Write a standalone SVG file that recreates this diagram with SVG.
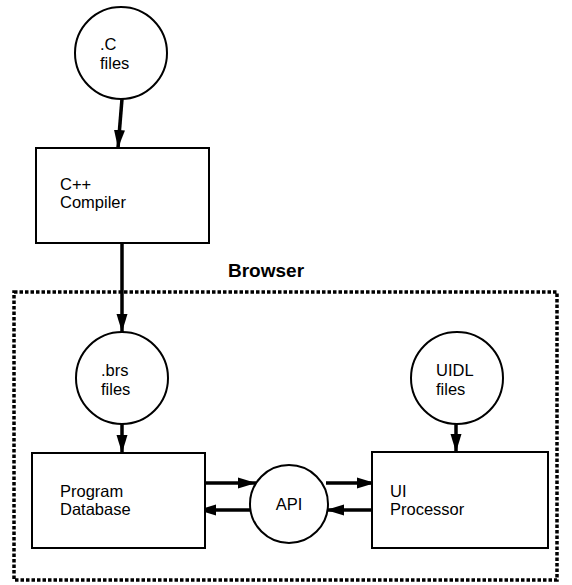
<svg xmlns="http://www.w3.org/2000/svg" width="572" height="585" viewBox="0 0 572 585">
<defs>
<marker id="ah" markerUnits="userSpaceOnUse" markerWidth="19" markerHeight="14" refX="18" refY="7" orient="auto">
<path d="M0,1.5 L18,7 L0,12.5 Z" fill="#000"/>
</marker>
<style>
.n{fill:#fff;stroke:#000;stroke-width:2}
.t{font-family:"Liberation Sans",Arial,sans-serif;font-size:16.5px;fill:#000}
.c{stroke:#000;stroke-width:3.5;fill:none;marker-end:url(#ah)}
.b{fill:none;stroke:#000;stroke-width:3.5;stroke-dasharray:3.5 2}
</style>
</defs>
<rect width="572" height="585" fill="#fff"/>
<g id="browser">
<rect class="b" x="14" y="292" width="543" height="288"/>
<text x="228" y="277" style="font-family:'Liberation Sans',Arial,sans-serif;font-size:19px;font-weight:bold">Browser</text>
</g>
<g id="connectors">
<line class="c" x1="122" y1="99" x2="118" y2="148"/>
<line class="c" x1="122" y1="243" x2="122" y2="332"/>
<line class="c" x1="122" y1="424" x2="122" y2="453"/>
<line class="c" x1="456" y1="424" x2="456" y2="452"/>
<line class="c" x1="205" y1="483" x2="256" y2="483"/>
<line class="c" x1="252" y1="510" x2="198" y2="510"/>
<line class="c" x1="326" y1="483" x2="375" y2="483"/>
<line class="c" x1="372" y1="510" x2="326" y2="510"/>
</g>
<g id="cfiles">
<circle class="n" cx="121" cy="53" r="46"/>
<text class="t" x="100" y="50">.C</text>
<text class="t" x="100" y="69">files</text>
</g>
<g id="compiler">
<rect class="n" x="36" y="148" width="173" height="95"/>
<text class="t" x="60" y="190">C++</text>
<text class="t" x="60" y="208">Compiler</text>
</g>
<g id="brsfiles">
<circle class="n" cx="122" cy="378" r="46"/>
<text class="t" x="101" y="376">.brs</text>
<text class="t" x="101" y="395">files</text>
</g>
<g id="progdb">
<rect class="n" x="32" y="453" width="173" height="95"/>
<text class="t" x="60" y="497">Program</text>
<text class="t" x="60" y="515">Database</text>
</g>
<g id="api">
<circle class="n" cx="289" cy="504" r="39"/>
<text class="t" x="289" y="510" text-anchor="middle">API</text>
</g>
<g id="uidl">
<circle class="n" cx="457" cy="378" r="46"/>
<text class="t" x="436" y="376">UIDL</text>
<text class="t" x="436" y="395">files</text>
</g>
<g id="uiproc">
<rect class="n" x="372" y="452" width="176" height="96"/>
<text class="t" x="390" y="497">UI</text>
<text class="t" x="390" y="515">Processor</text>
</g>
</svg>
